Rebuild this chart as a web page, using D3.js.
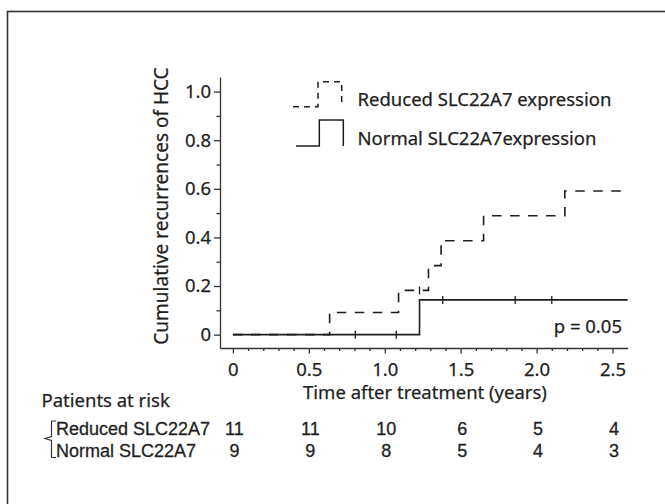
<!DOCTYPE html>
<html>
<head>
<meta charset="utf-8">
<script src="https://cdn.jsdelivr.net/npm/d3@7"></script>
<style>
  html, body { margin: 0; padding: 0; background: #fff; }
  svg { display: block; }
  text { font-family: "Noto Sans", "Open Sans", sans-serif; fill: #1f1f1f; stroke: #1f1f1f; stroke-width: 0.25px; }
  text.risk { font-family: "Liberation Sans", Arial, sans-serif; stroke-width: 0.3px; }
</style>
</head>
<body>
<svg id="chart" width="665" height="504"></svg>
<script>
// Time axis ticks (years) and labels
const timeTicks = [0, 0.5, 1.0, 1.5, 2.0, 2.5];
const timeLabels = ["0", "0.5", "1.0", "1.5", "2.0", "2.5"];
// Cumulative recurrence axis ticks and labels
const probTicks = [0, 0.2, 0.4, 0.6, 0.8, 1.0];
const probLabels = ["0", "0.2", "0.4", "0.6", "0.8", "1.0"];

// Reduced SLC22A7 expression: step times and cumulative recurrence after each step
const reducedTimes  = [0, 0.637, 1.091, 1.288, 1.371, 1.651, 2.186, 2.6];
const reducedValues = [0, 0.091, 0.182, 0.284, 0.386, 0.489, 0.591, 0.591];
const reducedCensored = [1.229];

// Normal SLC22A7 expression
const normalTimes  = [0, 1.229, 2.6];
const normalValues = [0, 0.143, 0.143];
const normalCensored = [0.806, 1.076, 1.382, 1.859, 2.10];

// Patients at risk at each time tick
const riskGroups = ["Reduced SLC22A7", "Normal SLC22A7"];
const riskReduced = [11, 11, 10, 6, 5, 4];
const riskNormal  = [9, 9, 8, 5, 4, 3];

const legendLabels = ["Reduced SLC22A7 expression", "Normal SLC22A7expression"];
const pValueText = "p = 0.05";

const svg = d3.select("#chart");
const ink = "#1e1e1e";

// outer frame
svg.append("rect")
  .attr("x", 7.5).attr("y", 11.5)
  .attr("width", 700).attr("height", 600)
  .attr("fill", "none").attr("stroke", "#333").attr("stroke-width", 1.6);

// scales: axes are offset from the data origin
const x = d3.scaleLinear().domain([-0.085, 2.6]).range([220, 627.7]);
const y = d3.scaleLinear().domain([-0.055, 1.06]).range([348, 77]);

// y axis: major ticks with labels
svg.append("g").attr("transform", "translate(220,0)")
  .call(d3.axisLeft(y).tickValues(probTicks)
    .tickFormat((d, i) => probLabels[i])
    .tickSize(6).tickSizeOuter(0).tickPadding(3));
// y minor ticks
svg.append("g").attr("transform", "translate(220,0)")
  .call(d3.axisLeft(y).tickValues([0.1, 0.3, 0.5, 0.7, 0.9])
    .tickFormat("").tickSize(3.5).tickSizeOuter(0))
  .select(".domain").remove();

// x axis: major ticks with labels
const xAxis = svg.append("g").attr("transform", "translate(0,348)")
  .call(d3.axisBottom(x).tickValues(timeTicks)
    .tickFormat((d, i) => timeLabels[i])
    .tickSize(5.5).tickSizeOuter(0));
xAxis.selectAll("text").attr("y", 28).attr("dy", 0);
// x minor ticks
const minorX = d3.range(0, 26).map(i => i / 10).filter(v => Math.round(v * 10) % 5 !== 0);
svg.append("g").attr("transform", "translate(0,348)")
  .call(d3.axisBottom(x).tickValues(minorX).tickFormat("").tickSize(3).tickSizeOuter(0))
  .select(".domain").remove();

svg.selectAll(".domain, .tick line").attr("stroke", "#333").attr("stroke-width", 1.3);
svg.selectAll(".tick text").attr("font-size", "18.5px").attr("fill", "#1f1f1f")
  .style("font-family", '"Noto Sans", "Open Sans", sans-serif');

// y axis title
svg.append("text")
  .attr("transform", "translate(168,206) rotate(-90)")
  .attr("text-anchor", "middle")
  .attr("font-size", "19px")
  .text("Cumulative recurrences of HCC");

// x axis title
svg.append("text")
  .attr("x", 425).attr("y", 399)
  .attr("text-anchor", "middle")
  .attr("font-size", "18.5px")
  .text("Time after treatment (years)");

// step curves
const step = d3.line().x(d => x(d[0])).y(d => y(d[1])).curve(d3.curveStepAfter);

svg.append("path")
  .datum(d3.zip(reducedTimes, reducedValues))
  .attr("d", step)
  .attr("fill", "none").attr("stroke", ink).attr("stroke-width", 1.6)
  .attr("stroke-dasharray", "9.5,8.5");

svg.append("path")
  .datum(d3.zip(normalTimes, normalValues))
  .attr("d", step)
  .attr("fill", "none").attr("stroke", ink).attr("stroke-width", 1.6);

// value of a step function at time t
function stepValue(times, values, t) {
  let v = values[0];
  for (let i = 0; i < times.length; i++) if (times[i] <= t) v = values[i];
  return v;
}

// censoring marks
function censorMarks(times, values, censored) {
  svg.append("g").selectAll("line")
    .data(censored)
    .join("line")
    .attr("x1", d => x(d)).attr("x2", d => x(d))
    .attr("y1", d => y(stepValue(times, values, d)) - 4)
    .attr("y2", d => y(stepValue(times, values, d)) + 4)
    .attr("stroke", ink).attr("stroke-width", 1.3);
}
censorMarks(reducedTimes, reducedValues, reducedCensored);
censorMarks(normalTimes, normalValues, normalCensored);

// p value
svg.append("text")
  .attr("x", 622).attr("y", 333)
  .attr("text-anchor", "end")
  .attr("font-size", "18.5px")
  .text(pValueText);

// legend
const legend = svg.append("g");
legend.append("path")
  .attr("d", "M293,106.7 H318 V81.7 H341.7 V106.7")
  .attr("fill", "none").attr("stroke", ink).attr("stroke-width", 1.5)
  .attr("stroke-dasharray", "6,5");
legend.append("path")
  .attr("d", "M296,146 H319.3 V120 H343.3 V146")
  .attr("fill", "none").attr("stroke", ink).attr("stroke-width", 1.5);
legend.selectAll("text")
  .data(legendLabels)
  .join("text")
  .attr("x", 357.5)
  .attr("y", (d, i) => i === 0 ? 106 : 145)
  .attr("font-size", "18.5px")
  .text(d => d);

// patients at risk table
svg.append("text")
  .attr("x", 41.5).attr("y", 407)
  .attr("font-size", "18.5px")
  .text("Patients at risk");

const rowY = [434.5, 456.5];

svg.append("g").selectAll("text")
  .data(riskGroups)
  .join("text")
  .attr("class", "risk")
  .attr("x", 56)
  .attr("y", (d, i) => rowY[i])
  .attr("font-size", "18px")
  .text(d => d);

// grouping bracket
svg.append("path")
  .attr("d", "M56,421 H51.5 V436.5 L45,438.5 L51.5,440.5 V457.5 H56")
  .attr("fill", "none").attr("stroke", "#333").attr("stroke-width", 1.2);

// counts under each time tick
[riskReduced, riskNormal].forEach((row, r) => {
  svg.append("g").selectAll("text")
    .data(row)
    .join("text")
    .attr("class", "risk")
    .attr("x", (d, i) => x(timeTicks[i]) + 1.5)
    .attr("y", rowY[r])
    .attr("text-anchor", "middle")
    .attr("font-size", "18px")
    .text(d => d);
});
</script>
</body>
</html>
